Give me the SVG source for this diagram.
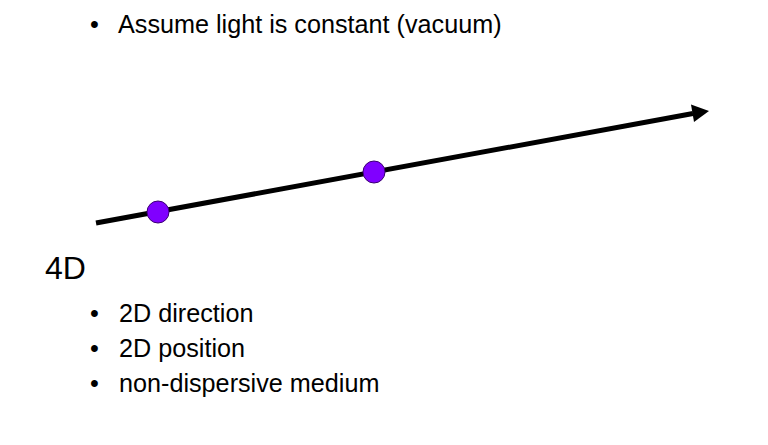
<svg xmlns="http://www.w3.org/2000/svg" width="768" height="445" viewBox="0 0 768 445">
<style>
text{font-family:"Liberation Sans",Arial,sans-serif;fill:#000}
.b{font-size:25.2px}
.h{font-size:32px}
.ray{stroke:#000;stroke-width:5;fill:none}
.pt{fill:#8000ff;stroke:#3a0070;stroke-width:1}
</style>
<rect width="768" height="445" fill="#fff"/>
<g id="top-bullet">
<text class="b" x="90" y="33">•</text>
<text class="b" x="118" y="33">Assume light is constant (vacuum)</text>
</g>
<g id="connectors">
<line class="ray" x1="96" y1="223" x2="693" y2="113.5"/>
<polygon points="709,111 691,104.5 694,122" fill="#000"/>
</g>
<g id="point1"><circle class="pt" cx="158" cy="212" r="11"/></g>
<g id="point2"><circle class="pt" cx="374" cy="172" r="11"/></g>
<g id="heading"><text class="h" x="45" y="279">4D</text></g>
<g id="list">
<text class="b" x="90" y="322">•</text>
<text class="b" x="119" y="322">2D direction</text>
<text class="b" x="90" y="357">•</text>
<text class="b" x="119" y="357">2D position</text>
<text class="b" x="90" y="392">•</text>
<text class="b" x="119" y="392">non-dispersive medium</text>
</g>
</svg>
